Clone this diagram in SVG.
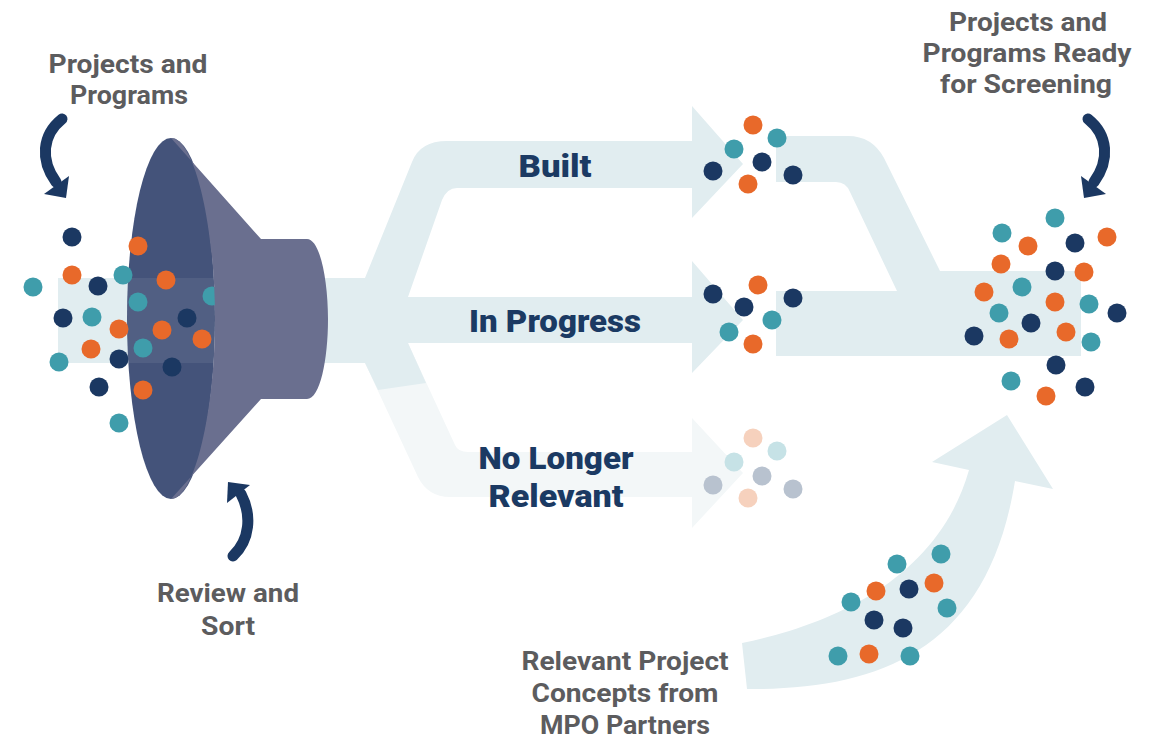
<svg xmlns="http://www.w3.org/2000/svg" width="1153" height="739" viewBox="0 0 1153 739">
<defs>
<style>
.band{fill:#e1edf0}
.faint{fill:#f3f7f8}
.n{fill:#1b3862}
.o{fill:#e8692a}
.t{fill:#3f9dab}
.fo{fill:#f6d1bd}
.ft{fill:#c6e2e6}
.fg{fill:#b8c2cf}
.lbl{font-family:Roboto,"Liberation Sans",sans-serif;font-weight:700;font-size:26px;fill:#5c5c5e;text-anchor:middle}
.cat{font-family:Roboto,"Liberation Sans",sans-serif;font-weight:900;font-size:32px;fill:#1b3a63;text-anchor:middle}
.arr{fill:none;stroke:#1b3862;stroke-width:11;stroke-linecap:round}
.head{fill:#1b3862}
</style>
<clipPath id="mouth"><ellipse cx="171" cy="318.5" rx="44" ry="180.5"/></clipPath>
</defs>
<rect width="1153" height="739" fill="#ffffff"/>

<g id="connectors">
<rect class="band" x="58" y="278" width="120" height="85"/>
<path class="faint" d="M365,363 L408,343 L455,445 Q458,452 468,452 L692,452 L692,418 L743,473 L692,528 L692,497 L450,497 Q428,497 418,477 Z"/>
<path class="band" d="M300,278 L365,278 L412,162 Q420,141 447,141 L692,141 L692,106 L743,164 L692,218 L692,188 L457,188 Q447,188 442,200 L408,297 L692,297 L692,261 L743,320 L692,373 L692,343 L408,343 L426,383 L378,390 L365,363 L300,363 Z"/>
<path class="band" d="M776,136 L848,136 Q872,136 884,158 L940,271 L1081,271 L1081,356 L776,356 L776,291 L897,291 L850,192 Q846,182 836,182 L776,182 Z"/>
<path class="band" d="M742,643 C830,625 938,580 969,470 L932,462 L1007,415 L1053,489 L1015,481 C988,650 880,690 747,689 Z"/>
<path class="arr" d="M62,119 C42,135 40,160 56,182"/>
<polygon class="head" points="69,176 44,194 66,198"/>
<path class="arr" d="M1088,119 C1108,135 1110,160 1094,182"/>
<polygon class="head" points="1081,176 1106,194 1084,198"/>
<path class="arr" d="M233,556 C250,540 252,515 241,494"/>
<polygon class="head" points="227,503 228,482 250,485"/>
</g>

<g id="funnel">
<ellipse cx="171" cy="318.5" rx="44" ry="180.5" fill="#44537a"/>
<rect x="120" y="278" width="100" height="85" fill="#ffffff" fill-opacity="0.07" clip-path="url(#mouth)"/>
</g>

<g id="dots-in">
<circle class="n" cx="72" cy="237" r="9.5"/>
<circle class="o" cx="138" cy="246" r="9.5"/>
<circle class="o" cx="72" cy="275" r="9.5"/>
<circle class="t" cx="123" cy="275" r="9.5"/>
<circle class="n" cx="98" cy="286" r="9.5"/>
<circle class="t" cx="33" cy="287" r="9.5"/>
<circle class="o" cx="166" cy="280" r="9.5"/>
<circle class="t" cx="138" cy="302" r="9.5"/>
<circle class="t" cx="212" cy="296" r="9.5"/>
<circle class="n" cx="63" cy="318" r="9.5"/>
<circle class="t" cx="92" cy="317" r="9.5"/>
<circle class="o" cx="119" cy="329" r="9.5"/>
<circle class="o" cx="162" cy="330" r="9.5"/>
<circle class="n" cx="187" cy="318" r="9.5"/>
<circle class="o" cx="202" cy="339" r="9.5"/>
<circle class="o" cx="91" cy="349" r="9.5"/>
<circle class="t" cx="143" cy="348" r="9.5"/>
<circle class="t" cx="59" cy="362" r="9.5"/>
<circle class="n" cx="119" cy="359" r="9.5"/>
<circle class="n" cx="172" cy="367" r="9.5"/>
<circle class="n" cx="99" cy="387" r="9.5"/>
<circle class="o" cx="143" cy="390" r="9.5"/>
<circle class="t" cx="119" cy="423" r="9.5"/>
</g>

<g id="funnel-cone">
<path d="M171,138 L261,239 L307,239 C320,239 328,280 328,319 C328,360 320,399 307,399 L261,399 L171,499 C195,499 215,410 215,318.5 C215,227 195,138 171,138 Z" fill="#6a6f8f"/>
</g>

<g id="dots-built">
<circle class="o" cx="753" cy="125" r="9.5"/>
<circle class="t" cx="777" cy="138" r="9.5"/>
<circle class="t" cx="734" cy="149" r="9.5"/>
<circle class="n" cx="762" cy="162" r="9.5"/>
<circle class="n" cx="713" cy="171" r="9.5"/>
<circle class="n" cx="793" cy="175" r="9.5"/>
<circle class="o" cx="748" cy="184" r="9.5"/>
</g>
<g id="dots-progress">
<circle class="o" cx="758" cy="285" r="9.5"/>
<circle class="n" cx="713" cy="294" r="9.5"/>
<circle class="n" cx="793" cy="298" r="9.5"/>
<circle class="n" cx="744" cy="307" r="9.5"/>
<circle class="t" cx="772" cy="320" r="9.5"/>
<circle class="t" cx="729" cy="332" r="9.5"/>
<circle class="o" cx="753" cy="344" r="9.5"/>
</g>
<g id="dots-nolonger">
<circle class="fo" cx="753" cy="438" r="9.5"/>
<circle class="ft" cx="777" cy="451" r="9.5"/>
<circle class="ft" cx="734" cy="462" r="9.5"/>
<circle class="fg" cx="762" cy="476" r="9.5"/>
<circle class="fg" cx="713" cy="485" r="9.5"/>
<circle class="fg" cx="793" cy="489" r="9.5"/>
<circle class="fo" cx="748" cy="498" r="9.5"/>
</g>
<g id="dots-ready">
<circle class="t" cx="1055" cy="218" r="9.5"/>
<circle class="t" cx="1002" cy="233" r="9.5"/>
<circle class="o" cx="1028" cy="246" r="9.5"/>
<circle class="n" cx="1075" cy="243" r="9.5"/>
<circle class="o" cx="1107" cy="237" r="9.5"/>
<circle class="o" cx="1001" cy="264" r="9.5"/>
<circle class="n" cx="1055" cy="271" r="9.5"/>
<circle class="o" cx="1084" cy="272" r="9.5"/>
<circle class="o" cx="984" cy="292" r="9.5"/>
<circle class="t" cx="1022" cy="287" r="9.5"/>
<circle class="o" cx="1055" cy="302" r="9.5"/>
<circle class="t" cx="1089" cy="304" r="9.5"/>
<circle class="n" cx="1117" cy="313" r="9.5"/>
<circle class="t" cx="999" cy="313" r="9.5"/>
<circle class="n" cx="1031" cy="323" r="9.5"/>
<circle class="o" cx="1066" cy="332" r="9.5"/>
<circle class="n" cx="974" cy="336" r="9.5"/>
<circle class="o" cx="1009" cy="339" r="9.5"/>
<circle class="t" cx="1091" cy="342" r="9.5"/>
<circle class="n" cx="1056" cy="365" r="9.5"/>
<circle class="t" cx="1011" cy="381" r="9.5"/>
<circle class="n" cx="1085" cy="387" r="9.5"/>
<circle class="o" cx="1046" cy="396" r="9.5"/>
</g>
<g id="dots-partners">
<circle class="t" cx="897" cy="564" r="9.5"/>
<circle class="t" cx="941" cy="554" r="9.5"/>
<circle class="o" cx="876" cy="591" r="9.5"/>
<circle class="n" cx="909" cy="589" r="9.5"/>
<circle class="o" cx="934" cy="583" r="9.5"/>
<circle class="t" cx="851" cy="602" r="9.5"/>
<circle class="t" cx="947" cy="608" r="9.5"/>
<circle class="n" cx="874" cy="620" r="9.5"/>
<circle class="n" cx="903" cy="628" r="9.5"/>
<circle class="t" cx="838" cy="656" r="9.5"/>
<circle class="o" cx="869" cy="654" r="9.5"/>
<circle class="t" cx="910" cy="656" r="9.5"/>
</g>

<g id="labels">
<text class="lbl" x="128" y="73" textLength="159" lengthAdjust="spacingAndGlyphs">Projects and</text>
<text class="lbl" x="129" y="104" textLength="118" lengthAdjust="spacingAndGlyphs">Programs</text>
<text class="lbl" x="1028" y="31" textLength="158" lengthAdjust="spacingAndGlyphs">Projects and</text>
<text class="lbl" x="1027" y="62" textLength="209" lengthAdjust="spacingAndGlyphs">Programs Ready</text>
<text class="lbl" x="1026" y="93" textLength="172" lengthAdjust="spacingAndGlyphs">for Screening</text>
<text class="lbl" x="228" y="602" textLength="142" lengthAdjust="spacingAndGlyphs">Review and</text>
<text class="lbl" x="228" y="635" textLength="54" lengthAdjust="spacingAndGlyphs">Sort</text>
<text class="lbl" x="625" y="670" textLength="207" lengthAdjust="spacingAndGlyphs">Relevant Project</text>
<text class="lbl" x="625" y="702" textLength="187" lengthAdjust="spacingAndGlyphs">Concepts from</text>
<text class="lbl" x="625" y="734" textLength="170" lengthAdjust="spacingAndGlyphs">MPO Partners</text>
<text class="cat" x="555" y="177" textLength="73" lengthAdjust="spacingAndGlyphs">Built</text>
<text class="cat" x="555" y="332" textLength="172" lengthAdjust="spacingAndGlyphs">In Progress</text>
<text class="cat" x="556" y="469" textLength="155" lengthAdjust="spacingAndGlyphs">No Longer</text>
<text class="cat" x="556" y="507" textLength="135" lengthAdjust="spacingAndGlyphs">Relevant</text>
</g>
</svg>
